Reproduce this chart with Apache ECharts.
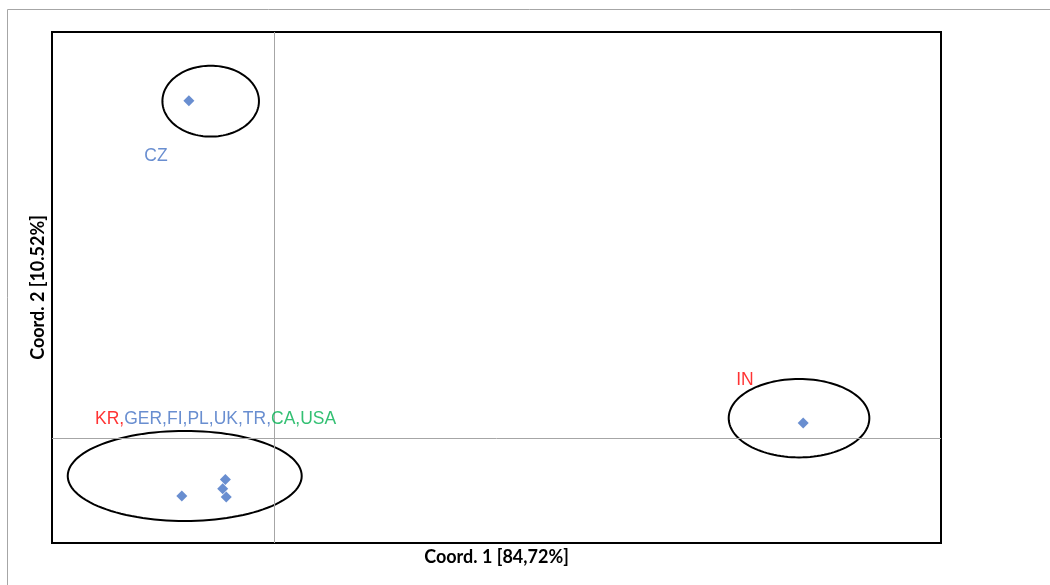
<!DOCTYPE html>
<html>
<head>
<meta charset="utf-8">
<script src="https://cdn.jsdelivr.net/npm/echarts@6/dist/echarts.min.js"></script>
<style>
  html, body { margin: 0; padding: 0; background: #fff; }
  #chart { width: 1050px; height: 585px; }
</style>
</head>
<body>
<div id="chart"></div>
<script>
// Principal coordinates of each country group
const pointNames = ['CZ', 'IN', 'KR', 'GER', 'FI', 'PL'];
const coord1 = [-0.096, 0.595, -0.104, -0.055, -0.058, -0.054];
const coord2 = [0.324, 0.015, -0.055, -0.039, -0.048, -0.056];

// Group ellipses: centre and semi-axes in coordinate units
const ellipseCx = [-0.0715, 0.5903, -0.1007];
const ellipseCy = [0.3237, 0.0197, -0.0357];
const ellipseRx = [0.0543, 0.0791, 0.1316];
const ellipseRy = [0.0340, 0.0376, 0.0432];

// Group annotations
const groupLabelX = [-0.133, 0.5295, -0.2016];
const groupLabelY = [0.271, 0.0563, 0.019];
const groupLabelText = [
  '{b|CZ}',
  '{r|IN}',
  '{r|KR,}{b|GER,FI,PL,UK,TR,}{g|CA,USA}'
];
const groupLabelAlign = ['center', 'center', 'left'];

const axisNameX = 'Coord. 1 [84,72%]';
const axisNameY = 'Coord. 2 [10.52%]';

const TITLE_FONT = 'Lato, "Open Sans", sans-serif';
const LABEL_FONT = '"Liberation Sans", Arial, sans-serif';
const BLUE = '#4472C4';
const RED = '#FF0000';
const GREEN = '#00B050';

const chart = echarts.init(document.getElementById('chart'), null, { renderer: 'canvas' });

const points = coord1.map((x, i) => ({ name: pointNames[i], value: [x, coord2[i]] }));
const ellipses = ellipseCx.map((cx, i) => [cx, ellipseCy[i], ellipseRx[i], ellipseRy[i]]);
const labels = groupLabelX.map((x, i) => ({
  value: [x, groupLabelY[i]],
  label: { formatter: groupLabelText[i], align: groupLabelAlign[i] }
}));

const option = {
  backgroundColor: '#fff',
  animation: false,
  graphic: [{
    type: 'rect',
    left: 5, top: 7,
    shape: { width: 1100, height: 620 },
    style: { fill: 'none', stroke: '#a6a6a6', lineWidth: 1 },
    silent: true,
    z: -10
  }],
  grid: {
    left: 52, right: 109, top: 32, bottom: 42,
    show: true,
    borderColor: '#000',
    borderWidth: 2,
    backgroundColor: 'transparent'
  },
  xAxis: {
    type: 'value',
    min: -0.25, max: 0.75,
    name: axisNameX,
    nameLocation: 'middle',
    nameGap: 5,
    nameTextStyle: { fontFamily: TITLE_FONT, fontWeight: 'bold', fontSize: 18, color: '#000' },
    axisLine: { show: false, onZero: false },
    axisTick: { show: false },
    axisLabel: { show: false },
    splitLine: { show: false }
  },
  yAxis: {
    type: 'value',
    min: -0.1, max: 0.39,
    name: axisNameY,
    nameLocation: 'middle',
    nameGap: 5,
    nameTextStyle: { fontFamily: TITLE_FONT, fontWeight: 'bold', fontSize: 18, color: '#000' },
    axisLine: { show: false, onZero: false },
    axisTick: { show: false },
    axisLabel: { show: false },
    splitLine: { show: false }
  },
  series: [
    {
      // zero reference lines
      type: 'line',
      data: [],
      silent: true,
      markLine: {
        silent: true,
        symbol: 'none',
        label: { show: false },
        lineStyle: { color: '#a6a6a6', width: 1, type: 'solid' },
        data: [{ xAxis: 0 }, { yAxis: 0 }]
      }
    },
    {
      type: 'custom',
      data: ellipses,
      silent: true,
      z: 3,
      renderItem: function (params, api) {
        const c = api.coord([api.value(0), api.value(1)]);
        const s = api.size([api.value(2), api.value(3)]);
        const pts = [];
        for (let k = 0; k < 120; k++) {
          const t = (k / 120) * Math.PI * 2;
          pts.push([c[0] + s[0] * Math.cos(t), c[1] + s[1] * Math.sin(t)]);
        }
        return {
          type: 'polygon',
          shape: { points: pts, smooth: 0 },
          style: { fill: 'none', stroke: '#000', lineWidth: 2 }
        };
      }
    },
    {
      type: 'scatter',
      data: points,
      symbol: 'diamond',
      symbolSize: [11, 11],
      itemStyle: { color: BLUE },
      z: 4
    },
    {
      type: 'scatter',
      data: labels,
      symbolSize: 0,
      silent: true,
      z: 5,
      label: {
        show: true,
        position: 'inside',
        verticalAlign: 'middle',
        fontFamily: LABEL_FONT,
        fontSize: 17.5,
        rich: {
          b: { color: BLUE, fontFamily: LABEL_FONT, fontSize: 17.5 },
          r: { color: RED, fontFamily: LABEL_FONT, fontSize: 17.5 },
          g: { color: GREEN, fontFamily: LABEL_FONT, fontSize: 17.5 }
        }
      }
    }
  ]
};

chart.setOption(option);
</script>
</body>
</html>
